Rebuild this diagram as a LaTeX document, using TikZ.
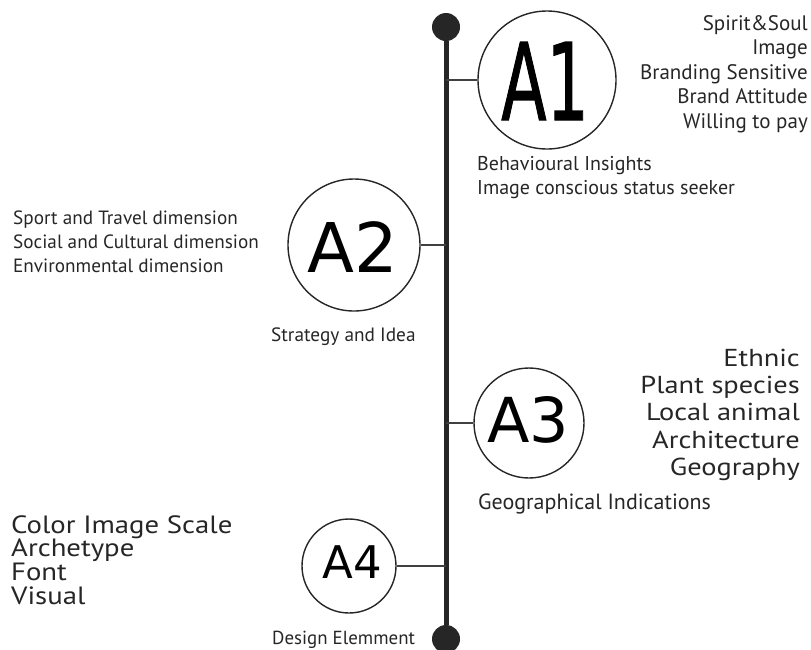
\documentclass[tikz,border=0pt]{standalone}
\usepackage{fontspec}
\setmainfont{PT Sans}
\newfontfamily\markfont{DejaVu Sans}
\newfontfamily\markfontbold[FakeBold=1.2]{DejaVu Sans}
\begin{document}
\begin{tikzpicture}[x=1pt,y=-1pt,
  ring/.style={circle, draw=black!85, line width=1.4pt, inner sep=0pt, minimum size=#1},
  dot/.style={circle, fill=black!85, inner sep=0pt, minimum size=28pt},
  spine/.style={line width=5pt, draw=black!85},
  link/.style={line width=1.3pt, draw=black!75},
  lbl/.style={inner sep=0pt, text=black!85},
  stagelabel/.style={inner sep=0pt, text=black}]
\useasboundingbox (0,0) rectangle (811,649);

% timeline spine with end dots
\node[dot] (top) at (446,27) {};
\node[dot] (bot) at (446,639) {};
\draw[spine] (top) -- (bot);

% stage circles
\node[ring=138pt] (a1) at (547,80) {};
\node[ring=132pt] (a2) at (354,245) {};
\node[ring=110pt] (a3) at (529,423) {};
\node[ring=94pt]  (a4) at (349,566) {};

\node[stagelabel, anchor=base] (a1m) at (545,120) {\scalebox{0.62}[1]{\markfontbold\fontsize{107}{107}\selectfont A1}};
\node[stagelabel, anchor=base] (a2m) at (353,272) {\markfont\fontsize{68.6}{68.6}\selectfont A2};
\node[stagelabel, anchor=base] (a3m) at (528,442) {\markfont\fontsize{62}{62}\selectfont A3};
\node[stagelabel, anchor=base] (a4m) at (352,578) {\markfont\fontsize{45}{45}\selectfont A4};

% connectors from circles to spine
\draw[link] (a1.west) -- (a1.west -| top);
\draw[link] (a2.east) -- (a2.east -| top);
\draw[link] (a3.west) -- (a3.west -| top);
\draw[link] (a4.east) -- (a4.east -| top);

% A1 texts
\foreach \t [count=\i] in {Spirit\&Soul, Image, Branding Sensitive, Brand Attitude, Willing to pay}
  \node[lbl, anchor=base east, font=\fontsize{21}{22}\selectfont] (s\i) at (808,{30+24.5*(\i-1)}) {\t};
\node[lbl, anchor=base west, font=\fontsize{20}{22}\selectfont] (b1) at (477,170) {Behavioural Insights};
\node[lbl, anchor=base west, font=\fontsize{20}{22}\selectfont] (b2) at (477,194) {Image conscious status seeker};

% A2 texts
\foreach \t [count=\i] in {Sport and Travel dimension, Social and Cultural dimension, Environmental dimension}
  \node[lbl, anchor=base west, font=\fontsize{19.2}{21}\selectfont] (d\i) at (13,{224+24*(\i-1)}) {\t};
\node[lbl, anchor=base west, font=\fontsize{19.3}{21}\selectfont] (st) at (271,341) {Strategy and Idea};

% A3 texts
\foreach \t [count=\i] in {Ethnic, Plant species, Local animal, Architecture, Geography}
  \node[lbl, anchor=base east, font=\fontsize{24.5}{26}\selectfont] (g\i) at (800,{366.5+27.2*(\i-1)}) {\scalebox{1.16}[1]{\t}};
\node[lbl, anchor=base west, font=\fontsize{22}{24}\selectfont] (gi) at (478,509.5) {Geographical Indications};

% A4 texts
\foreach \t [count=\i] in {Color Image Scale, Archetype, Font, Visual}
  \node[lbl, anchor=base west, font=\fontsize{25}{26}\selectfont] (c\i) at (11,{533+23.7*(\i-1)}) {\scalebox{1.15}[1]{\t}};
\node[lbl, anchor=base west, font=\fontsize{18.9}{20}\selectfont] (de) at (272,644) {Design Elemment};
\end{tikzpicture}
\end{document}
